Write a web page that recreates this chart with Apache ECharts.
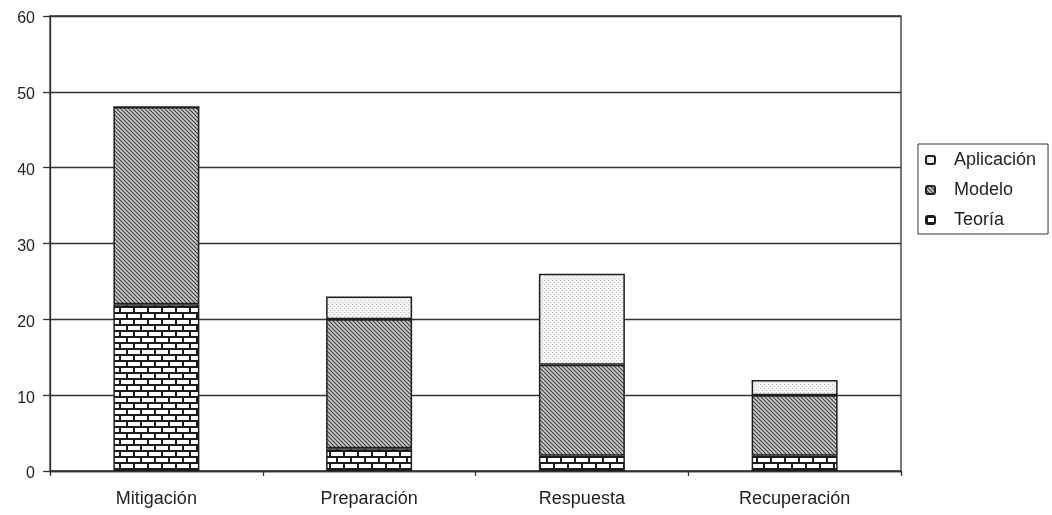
<!DOCTYPE html>
<html>
<head>
<meta charset="utf-8">
<script src="https://cdn.jsdelivr.net/npm/echarts@6/dist/echarts.min.js"></script>
<style>
  html, body { margin: 0; padding: 0; background: #fff; }
  #chart { width: 1052px; height: 515px; }
</style>
</head>
<body>
<div id="chart"></div>
<script>
// Categories and stacked values (Teoría at the bottom, Aplicación on top)
const categories = ['Mitigación', 'Preparación', 'Respuesta', 'Recuperación'];
const teoria     = [22, 3, 2, 2];
const modelo     = [26, 17, 12, 8];
const aplicacion = [0, 3, 12, 2];
const yMin = 0, yMax = 60, yStep = 10;

// Fill patterns drawn on small tiles
function tile(w, h, draw) {
  const c = document.createElement('canvas');
  c.width = w; c.height = h;
  const g = c.getContext('2d');
  draw(g);
  return { image: c, repeat: 'repeat' };
}
// brick wall
const brick = tile(14, 12, g => {
  g.fillStyle = '#ffffff'; g.fillRect(0, 0, 14, 12);
  g.fillStyle = '#1c1c1c';
  g.fillRect(0, 0, 14, 2);
  g.fillRect(0, 6, 14, 2);
  g.fillRect(0, 0, 2, 6);
  g.fillRect(7, 6, 2, 6);
});
// diagonal hatch
const hatch = tile(4, 4, g => {
  g.fillStyle = '#a2a2a2'; g.fillRect(0, 0, 4, 4);
  for (let i = 0; i < 4; i++) {
    g.fillStyle = '#444444'; g.fillRect(i, i, 1, 1);
    g.fillStyle = '#cfcfcf'; g.fillRect((i + 2) % 4, i, 1, 1);
  }
});
// light dots
const dots = tile(4, 4, g => {
  g.fillStyle = '#f3f3f3'; g.fillRect(0, 0, 4, 4);
  g.fillStyle = '#c2c2c2';
  g.fillRect(0, 0, 1, 1);
  g.fillRect(2, 2, 1, 1);
});

const font = '"Liberation Sans", Arial, sans-serif';
const edge = { borderColor: '#1e1e1e', borderWidth: 1.5 };

const chart = echarts.init(document.getElementById('chart'), null, { renderer: 'canvas' });
chart.setOption({
  animation: false,
  backgroundColor: '#ffffff',
  textStyle: { fontFamily: font, color: '#222' },
  grid: {
    left: 50, right: 151, top: 16, bottom: 44,
    show: true, borderColor: '#333', borderWidth: 1.3
  },
  legend: {
    orient: 'vertical',
    left: 918, top: 144,
    padding: [7, 12, 5, 7],
    itemGap: 12,
    itemWidth: 9, itemHeight: 8,
    borderColor: '#333', borderWidth: 1,
    textStyle: { fontFamily: font, fontSize: 18, color: '#222', padding: [0, 0, 0, 14] },
    data: ['Aplicación', 'Modelo', 'Teoría']
  },
  xAxis: {
    type: 'category',
    data: categories,
    axisLine: { lineStyle: { color: '#333', width: 1.3 } },
    axisTick: { show: true, length: 5, lineStyle: { color: '#333', width: 1.3 } },
    axisLabel: { margin: 19, fontSize: 18, color: '#222', fontFamily: font }
  },
  yAxis: {
    type: 'value',
    min: yMin, max: yMax, interval: yStep,
    axisLine: { show: true, lineStyle: { color: '#333', width: 1.3 } },
    axisTick: { show: true, inside: false, length: 7, lineStyle: { color: '#333', width: 1.3 } },
    axisLabel: { margin: 15, fontSize: 16, color: '#222', fontFamily: font,
                 verticalAlign: 'top', lineHeight: 6 },
    splitLine: { show: true, lineStyle: { color: '#333', width: 1.3 } }
  },
  series: [
    { name: 'Teoría', type: 'bar', stack: 'total', data: teoria, barWidth: 86,
      itemStyle: Object.assign({ color: brick }, edge) },
    { name: 'Modelo', type: 'bar', stack: 'total', data: modelo, barWidth: 86,
      itemStyle: Object.assign({ color: hatch }, edge) },
    { name: 'Aplicación', type: 'bar', stack: 'total', data: aplicacion, barWidth: 86,
      itemStyle: Object.assign({ color: dots }, edge) }
  ]
});
</script>
</body>
</html>
